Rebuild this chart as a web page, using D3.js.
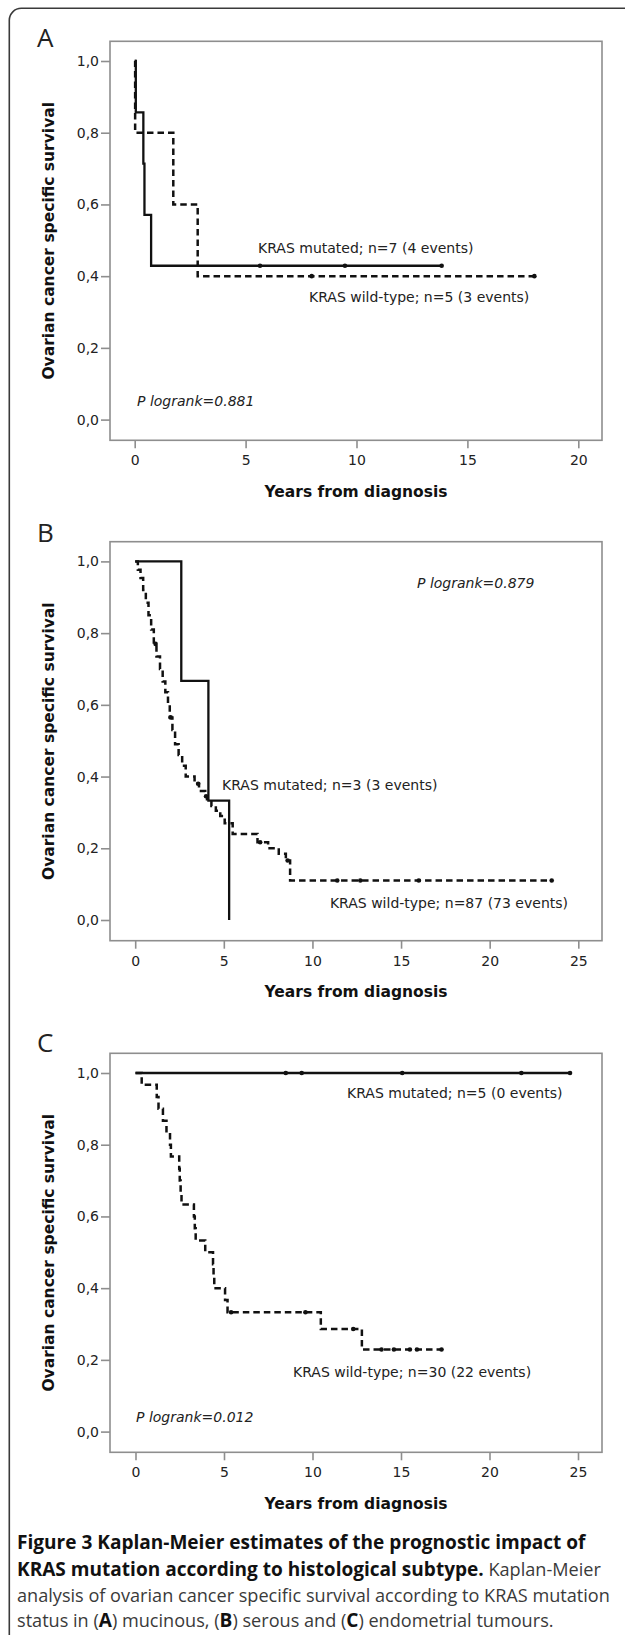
<!DOCTYPE html>
<html>
<head>
<meta charset="utf-8">
<script src="https://cdn.jsdelivr.net/npm/d3@7"></script>
<style>
  body { margin: 0; background: #fff; }
</style>
</head>
<body>
<div id="chart"></div>
<script>
var svgWidth = 625;
var svgHeight = 1635;

// Tick values
var xTicksA = [0, 5, 10, 15, 20];
var xTicksBC = [0, 5, 10, 15, 20, 25];
var yTicks = [0, 0.2, 0.4, 0.6, 0.8, 1.0];

// Panel A - mucinous  [years, survival after the step]
var aMutSteps = [[0, 1], [0.05, 0.857], [0.39, 0.714], [0.44, 0.571], [0.74, 0.429], [13.84, 0.429]];
var aMutCensor = [5.65, 9.48, 13.84];
var aWildSteps = [[0, 1], [0.02, 0.8], [1.74, 0.6], [2.84, 0.4], [18.02, 0.4]];
var aWildCensor = [7.98, 18.02];

// Panel B - serous
var bMutSteps = [[0, 1], [2.6, 0.667], [4.13, 0.333], [5.3, 0], [5.3, 0]];
var bMutCensor = [];
var bWildSteps = [[0, 1], [0.15, 0.977], [0.3, 0.954], [0.45, 0.92], [0.6, 0.885], [0.75, 0.85],
  [0.9, 0.81], [1.05, 0.77], [1.2, 0.735], [1.4, 0.70], [1.55, 0.665], [1.7, 0.635], [1.85, 0.60],
  [1.95, 0.565], [2.1, 0.53], [2.25, 0.49], [2.45, 0.46], [2.65, 0.43], [2.85, 0.40], [3.35, 0.38],
  [3.6, 0.36], [3.95, 0.345], [4.05, 0.331], [4.3, 0.318], [4.55, 0.305], [4.8, 0.29], [5.05, 0.27],
  [5.5, 0.24], [6.9, 0.217], [7.5, 0.2], [8.1, 0.185], [8.5, 0.166], [8.74, 0.11], [23.5, 0.11]];
var bWildCensor = [1.15, 2.0, 3.55, 4.0, 7.05, 8.6, 11.4, 12.7, 16.0, 23.5];

// Panel C - endometrial
var cMutSteps = [[0, 1], [24.55, 1]];
var cMutCensor = [8.49, 9.39, 15.07, 21.8, 24.55];
var cWildSteps = [[0, 1], [0.35, 0.967], [1.2, 0.933], [1.3, 0.9], [1.55, 0.867], [1.75, 0.833],
  [1.95, 0.8], [2.0, 0.767], [2.47, 0.733], [2.5, 0.7], [2.55, 0.667], [2.6, 0.633], [3.3, 0.6],
  [3.35, 0.567], [3.4, 0.533], [3.94, 0.5], [4.38, 0.467], [4.41, 0.433], [4.45, 0.4], [5.06, 0.367],
  [5.2, 0.333], [10.47, 0.286], [12.79, 0.229], [17.29, 0.229]];
var cWildCensor = [5.4, 9.6, 12.3, 13.9, 14.6, 15.5, 15.9, 17.29];

// Labels
var labelsA = ["KRAS mutated; n=7 (4 events)", "KRAS wild-type; n=5 (3 events)", "P logrank=0.881"];
var labelsB = ["KRAS mutated; n=3 (3 events)", "KRAS wild-type; n=87 (73 events)", "P logrank=0.879"];
var labelsC = ["KRAS mutated; n=5 (0 events)", "KRAS wild-type; n=30 (22 events)", "P logrank=0.012"];

var plotLeft = 110, plotRight = 602, boxHeight = 399;

var panels = [
  { letter: "A", letterY: 47, top: 41.3, xTicks: xTicksA, x0: 134.7, x1: 578.3,
    mut: aMutSteps, mutCensor: aMutCensor, wild: aWildSteps, wildCensor: aWildCensor,
    notes: [
      { text: labelsA[0], x: 258, y: 253, anchor: "start" },
      { text: labelsA[1], x: 309, y: 302, anchor: "start" },
      { text: labelsA[2], x: 137, y: 406, anchor: "start", italic: true }
    ] },
  { letter: "B", letterY: 542, top: 541.7, xTicks: xTicksBC, x0: 135.2, x1: 578.3,
    mut: bMutSteps, mutCensor: bMutCensor, wild: bWildSteps, wildCensor: bWildCensor,
    notes: [
      { text: labelsB[2], x: 417, y: 588, anchor: "start", italic: true },
      { text: labelsB[0], x: 222, y: 790, anchor: "start" },
      { text: labelsB[1], x: 568, y: 908, anchor: "end" }
    ] },
  { letter: "C", letterY: 1052, top: 1053.3, xTicks: xTicksBC, x0: 135.5, x1: 578,
    mut: cMutSteps, mutCensor: cMutCensor, wild: cWildSteps, wildCensor: cWildCensor,
    notes: [
      { text: labelsC[0], x: 347, y: 1098, anchor: "start" },
      { text: labelsC[1], x: 293, y: 1377, anchor: "start" },
      { text: labelsC[2], x: 136, y: 1422, anchor: "start", italic: true }
    ] }
];

var svg = d3.select("#chart")
  .append("svg")
  .attr("width", svgWidth)
  .attr("height", svgHeight)
  .style("font-family", "'DejaVu Sans', sans-serif");

// outer figure frame (runs off the right and bottom edge)
svg.append("rect")
  .attr("x", 9.3).attr("y", 8.3)
  .attr("width", 800).attr("height", 1800)
  .attr("rx", 12)
  .attr("fill", "none")
  .attr("stroke", "#3a3a3a")
  .attr("stroke-width", 1.6);

function survAt(steps, t) {
  var s = steps[0][1];
  steps.forEach(function(p) { if (p[0] <= t) s = p[1]; });
  return s;
}

panels.forEach(function(p) {
  var bottom = p.top + boxHeight;
  var x = d3.scaleLinear().domain([0, p.xTicks[p.xTicks.length - 1]]).range([p.x0, p.x1]);
  var y = d3.scaleLinear().domain([0, 1]).range([p.top + 378.3, p.top + 19.7]);

  var g = svg.append("g");

  // panel letter
  g.append("text")
    .attr("x", 37).attr("y", p.letterY)
    .attr("font-family", "'Open Sans', sans-serif")
    .attr("font-size", 26)
    .attr("fill", "#222")
    .text(p.letter);

  // plot frame
  g.append("rect")
    .attr("x", plotLeft).attr("y", p.top)
    .attr("width", plotRight - plotLeft).attr("height", boxHeight)
    .attr("fill", "none")
    .attr("stroke", "#8e8e8e")
    .attr("stroke-width", 1.6);

  // axes
  var leftAxis = d3.axisLeft(y)
    .tickValues(yTicks)
    .tickSize(9)
    .tickPadding(2)
    .tickFormat(function(d) { return d3.format(".1f")(d).replace(".", ","); });

  var bottomAxis = d3.axisBottom(x)
    .tickValues(p.xTicks)
    .tickSize(8)
    .tickPadding(7);

  var ya = g.append("g").attr("transform", `translate(${plotLeft},0)`).call(leftAxis);
  var xa = g.append("g").attr("transform", `translate(0,${bottom})`).call(bottomAxis);

  [ya, xa].forEach(function(a) {
    a.attr("font-family", null).attr("font-size", null);
    a.select(".domain").remove();
    a.selectAll(".tick line").attr("stroke", "#8e8e8e").attr("stroke-width", 1.6);
    a.selectAll(".tick text").attr("fill", "#222").attr("font-size", 14);
  });

  // axis titles
  g.append("text")
    .attr("x", (plotLeft + plotRight) / 2)
    .attr("y", bottom + 56.5)
    .attr("text-anchor", "middle")
    .attr("font-weight", "bold")
    .attr("font-size", 15.5)
    .attr("fill", "#111")
    .text("Years from diagnosis");

  g.append("text")
    .attr("transform", `translate(54, ${p.top + boxHeight / 2}) rotate(-90)`)
    .attr("text-anchor", "middle")
    .attr("font-weight", "bold")
    .attr("font-size", 15.5)
    .attr("fill", "#111")
    .text("Ovarian cancer specific survival");

  // survival curves
  var line = d3.line()
    .x(function(d) { return x(d[0]); })
    .y(function(d) { return y(d[1]); })
    .curve(d3.curveStepAfter);

  g.append("path")
    .datum(p.wild)
    .attr("d", line)
    .attr("fill", "none")
    .attr("stroke", "#111")
    .attr("stroke-width", 2.5)
    .attr("stroke-dasharray", "6.5,4");

  g.append("path")
    .datum(p.mut)
    .attr("d", line)
    .attr("fill", "none")
    .attr("stroke", "#111")
    .attr("stroke-width", 2.3);

  // censor marks
  g.selectAll(".cw")
    .data(p.wildCensor)
    .enter()
    .append("circle")
    .attr("cx", function(d) { return x(d); })
    .attr("cy", function(d) { return y(survAt(p.wild, d)); })
    .attr("r", 2.3)
    .attr("fill", "#111");

  g.selectAll(".cm")
    .data(p.mutCensor)
    .enter()
    .append("circle")
    .attr("cx", function(d) { return x(d); })
    .attr("cy", function(d) { return y(survAt(p.mut, d)); })
    .attr("r", 2.3)
    .attr("fill", "#111");

  // annotations
  p.notes.forEach(function(n) {
    g.append("text")
      .attr("x", n.x).attr("y", n.y)
      .attr("text-anchor", n.anchor)
      .attr("font-size", 14)
      .attr("font-style", n.italic ? "italic" : null)
      .attr("fill", "#222")
      .text(n.text);
  });
});

// caption
var capLines = [
  [["Figure 3 Kaplan-Meier estimates of the prognostic impact of", true]],
  [["KRAS mutation according to histological subtype.", true], [" Kaplan-Meier", false]],
  [["analysis of ovarian cancer specific survival according to KRAS mutation", false]],
  [["status in (", false], ["A", true], [") mucinous, (", false], ["B", true],
   [") serous and (", false], ["C", true], [") endometrial tumours.", false]]
];
var capBaselines = [1548.5, 1575.5, 1601.5, 1627];

var cap = svg.append("g").attr("font-family", "'Open Sans', sans-serif");

function addLine(parts, yPos, boldSize, regSize) {
  var t = cap.append("text").attr("x", 17).attr("y", yPos);
  parts.forEach(function(part) {
    t.append("tspan")
      .attr("font-weight", part[1] ? "bold" : "normal")
      .attr("font-size", part[1] ? boldSize : regSize)
      .attr("fill", part[1] ? "#111" : "#3a3a3a")
      .text(part[0]);
  });
  return t;
}

// fit bold size on line 1 and regular size on line 3
var probe1 = addLine(capLines[0], -100, 20, 20);
var boldSize = 20 * 569 / probe1.node().getComputedTextLength();
probe1.remove();
var probe3 = addLine(capLines[2], -100, 20, 20);
var regSize = 20 * 593 / probe3.node().getComputedTextLength();
probe3.remove();

capLines.forEach(function(parts, i) {
  addLine(parts, capBaselines[i], boldSize, regSize);
});
</script>
</body>
</html>
